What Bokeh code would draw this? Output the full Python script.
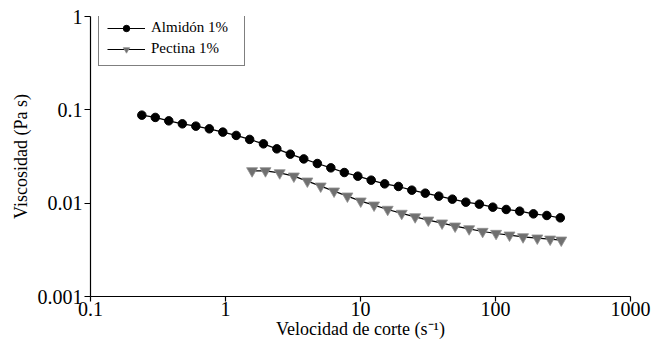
from bokeh.plotting import figure
from bokeh.models import Range1d, FixedTicker, CustomJSTickFormatter, Legend, LegendItem
from bokeh.embed import file_html
from bokeh.resources import INLINE

# Data
almidon_x = [0.240, 0.302, 0.380, 0.479, 0.603, 0.759, 0.955, 1.20, 1.51, 1.91,
             2.40, 3.02, 3.80, 4.79, 6.03, 7.59, 9.55, 12.0, 15.1, 19.1,
             24.0, 30.2, 38.0, 47.9, 60.3, 75.9, 95.5, 120, 151, 191, 240, 302]
almidon_y = [0.0877, 0.0829, 0.0762, 0.0708, 0.0669, 0.0626, 0.0577, 0.0532, 0.0482, 0.0432,
             0.0382, 0.0335, 0.0298, 0.0266, 0.0239, 0.0213, 0.01946, 0.01764, 0.0161, 0.0151,
             0.01378, 0.0128, 0.01189, 0.01104, 0.01025, 0.00976, 0.00906, 0.00856, 0.00821,
             0.00768, 0.00738, 0.00696]

pectina_x = [1.574, 1.977, 2.52, 3.21, 4.04, 5.07, 6.37, 8.0, 10.04, 12.6,
             15.9, 20.2, 25.4, 31.8, 40.2, 50.2, 63.8, 80.3, 101, 127,
             160, 204, 254, 307]
pectina_y = [0.0222, 0.0222, 0.0211, 0.01946, 0.01721, 0.01521, 0.01345, 0.01189, 0.01051, 0.00952,
             0.00856, 0.00776, 0.00713, 0.00657, 0.00611, 0.00567, 0.00530, 0.00497, 0.00473, 0.00454,
             0.00435, 0.00422, 0.00411, 0.00401]

x_ticks = [0.1, 1, 10, 100, 1000]
y_ticks = [0.001, 0.01, 0.1, 1]

FONT = "Liberation Serif"

p = figure(width=654, height=343, x_axis_type="log", y_axis_type="log",
           x_range=Range1d(0.1, 1000), y_range=Range1d(0.001, 1),
           output_backend="svg", toolbar_location=None,
           min_border_left=90, min_border_right=24, min_border_top=16, min_border_bottom=47)

p.outline_line_color = None
p.xgrid.visible = False
p.ygrid.visible = False

for ax, ticks in ((p.xaxis[0], x_ticks), (p.yaxis[0], y_ticks)):
    ax.ticker = FixedTicker(ticks=ticks, minor_ticks=[])
    ax.formatter = CustomJSTickFormatter(code="return tick.toString();")
    ax.major_tick_in = 0
    ax.major_tick_out = 5
    ax.minor_tick_in = 0
    ax.minor_tick_out = 0
    ax.axis_line_color = "black"
    ax.axis_line_width = 1.2
    ax.major_tick_line_color = "black"
    ax.major_tick_line_width = 1.2
    ax.major_label_text_font = FONT
    ax.major_label_text_font_size = "20px"
    ax.major_label_text_color = "black"
    ax.axis_label_text_font = FONT
    ax.axis_label_text_font_size = "18px"
    ax.axis_label_text_font_style = "normal"
    ax.axis_label_text_color = "black"

p.xaxis[0].major_label_standoff = 0
p.xaxis[0].axis_label_standoff = 0
p.yaxis[0].major_label_standoff = 2
p.yaxis[0].axis_label_standoff = 4
p.xaxis[0].axis_label = "Velocidad de corte (s\u207b\u00b9)"
p.yaxis[0].axis_label = "Viscosidad (Pa s)"
p.yaxis[0].major_tick_out = 6

la = p.line(almidon_x, almidon_y, line_color="black", line_width=1.2)
sa = p.scatter(almidon_x, almidon_y, marker="circle", size=8.5, fill_color="black", line_color="black")
lp = p.line(pectina_x, pectina_y, line_color="black", line_width=1.2)
sp = p.scatter(pectina_x, pectina_y, marker="inverted_triangle", size=11,
               fill_color="#707070", line_color="#909090", line_width=0.8)

legend = Legend(items=[LegendItem(label="Almidón 1%", renderers=[la, sa]),
                       LegendItem(label="Pectina 1%", renderers=[lp, sp])],
                location=(8, 230))
legend.label_text_font = FONT
legend.label_text_font_size = "15px"
legend.label_text_color = "black"
legend.glyph_width = 38
legend.glyph_height = 16
legend.label_height = 16
legend.label_width = 85
legend.spacing = 4
legend.padding = 8
legend.label_standoff = 6
legend.border_line_color = "black"
legend.border_line_width = 1
p.add_layout(legend, "center")

open("out.html", "w").write(file_html(p, INLINE))
